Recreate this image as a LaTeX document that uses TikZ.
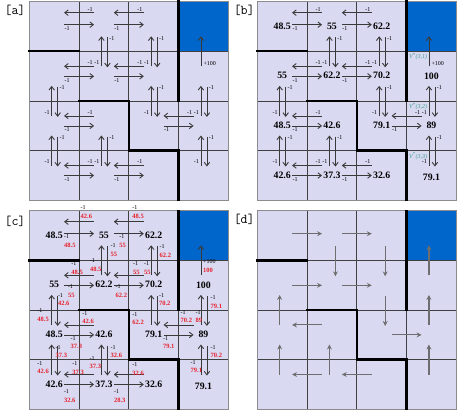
\documentclass[tikz,border=0pt]{standalone}
\usepackage{fontspec}
\setmainfont{Liberation Serif}
\usetikzlibrary{arrows.meta}
\definecolor{lav}{HTML}{D9D9F2}
\definecolor{cellblue}{HTML}{0066CC}
\definecolor{gridc}{HTML}{404040}
\definecolor{borderc}{HTML}{8C8C8C}
\definecolor{arrc}{HTML}{3A3A3A}
\definecolor{polc}{HTML}{6E6E6E}
\definecolor{redv}{HTML}{E8202A}
\definecolor{greenv}{HTML}{3FA08C}
\tikzset{
  arr/.style={draw=arrc, line width=0.75pt, -{Straight Barb[length=3.5pt,width=5.5pt,line width=0.9pt]}},
  pol/.style={draw=polc, line width=1.15pt, -{Stealth[length=5pt,width=5pt,inset=1.8pt]}},
  myarr/.style={arr},
  rew/.style={font=\fontsize{6}{7}\selectfont, inner sep=0pt},
  val/.style={font=\fontsize{9.8}{11}\selectfont\bfseries, inner sep=0pt},
  redval/.style={font=\fontsize{6.5}{7}\selectfont\bfseries, text=redv, inner sep=0pt, anchor=west},
  vstar/.style={font=\fontsize{6}{6.5}\selectfont\itshape, text=greenv, inner sep=0pt, anchor=north west},
  wall/.style={line width=2.4pt, black, line cap=rect},
  gridline/.style={gridc, line width=0.7pt},
  tag/.style={font=\fontsize{13.5}{14}\selectfont\ttfamily, inner sep=0pt},
}
\newif\iflabels
\newcommand\Hleft[3]{%
  \pgfmathsetmacro\myxb{#3*49.75}%
  \pgfmathsetmacro\myyy{#2*49.6+(#2==0 ? 11 : 15)}%
  \coordinate (#1L#2#3s) at (\myxb+15,\myyy);
  \coordinate (#1L#2#3e) at (\myxb-15,\myyy);
  \draw[myarr] (#1L#2#3s) -- (#1L#2#3e);
  \iflabels\node[rew] (#1L#2#3t) at (\myxb+11,\myyy-3.5) {-1};\fi
}
\newcommand\Hright[3]{%
  \pgfmathsetmacro\myxb{#3*49.75}%
  \pgfmathsetmacro\myyy{#2*49.6+(#2==0 ? 23 : 25)}%
  \coordinate (#1R#2#3s) at (\myxb-15,\myyy);
  \coordinate (#1R#2#3e) at (\myxb+15,\myyy);
  \draw[myarr] (#1R#2#3s) -- (#1R#2#3e);
  \iflabels\node[rew] (#1R#2#3t) at (\myxb-12,\myyy+4) {-1};\fi
}
\newcommand\Vup[3]{%
  \pgfmathsetmacro\myyb{#2*49.6}%
  \pgfmathsetmacro\myxx{#3*49.75+22.375}%
  \coordinate (#1U#2#3s) at (\myxx,\myyb+15);
  \coordinate (#1U#2#3e) at (\myxx,\myyb-15);
  \draw[myarr] (#1U#2#3s) -- (#1U#2#3e);
  \iflabels\node[rew] (#1U#2#3t) at (\myxx-4.5,\myyb+11.5) {-1};\fi
}
\newcommand\Vdown[3]{%
  \pgfmathsetmacro\myyb{#2*49.6}%
  \pgfmathsetmacro\myxx{#3*49.75+28.375}%
  \coordinate (#1D#2#3s) at (\myxx,\myyb-14);
  \coordinate (#1D#2#3e) at (\myxx,\myyb+16);
  \draw[myarr] (#1D#2#3s) -- (#1D#2#3e);
  \iflabels\node[rew] (#1D#2#3t) at (\myxx+4.5,\myyb-13) {-1};\fi
}
\newcommand\Hpair[3]{\Hleft{#1}{#2}{#3}\Hright{#1}{#2}{#3}}
\newcommand\Vpair[3]{\Vup{#1}{#2}{#3}\Vdown{#1}{#2}{#3}}
\newcommand\Vgoal[1]{%
  \coordinate (#1Gs) at (171.625,64.6);
  \coordinate (#1Ge) at (171.625,34.6);
  \draw[myarr] (#1Gs) -- (#1Ge);
  \iflabels\node[rew, anchor=west] (#1Gt) at (174.1,61.6) {+100};\fi
}
\newcommand\allarrows[1]{%
  \Hpair{#1}{0}{1}\Hpair{#1}{0}{2}
  \Hpair{#1}{1}{1}\Hpair{#1}{1}{2}
  \Hpair{#1}{2}{1}\Hpair{#1}{2}{3}
  \Hpair{#1}{3}{1}\Hpair{#1}{3}{2}
  \Vpair{#1}{1}{1}\Vpair{#1}{1}{2}
  \Vpair{#1}{2}{0}\Vpair{#1}{2}{2}\Vpair{#1}{2}{3}
  \Vpair{#1}{3}{0}\Vpair{#1}{3}{1}\Vpair{#1}{3}{3}
  \Vgoal{#1}
}
\newcommand\drawpanelgrid{%
  \fill[lav] (0,0) rectangle (199,198.4);
  \fill[cellblue] (149.25,0) rectangle (199,49.6);
  \foreach \i in {1,2,3} {
    \draw[gridline] (\i*49.75,0) -- (\i*49.75,198.4);
    \draw[gridline] (0,\i*49.6) -- (199,\i*49.6);
  }
  \draw[borderc, line width=1.2pt] (0,0) rectangle (199,198.4);
  \draw[wall] (0,49.6) -- (49.75,49.6);
  \draw[wall] (149.25,0) -- (149.25,99.2);
  \draw[wall] (49.75,99.2) -- (99.5,99.2) -- (99.5,148.8) -- (149.25,148.8) -- (149.25,198.4);
}
\newcommand\putvals[1]{%
  \node[val] (#1v00) at (24.875,24.5) {48.5};
  \node[val] (#1v01) at (74.625,24.5) {55};
  \node[val] (#1v02) at (124.375,24.5) {62.2};
  \node[val] (#1v10) at (24.875,74.1) {55};
  \node[val] (#1v11) at (74.625,74.1) {62.2};
  \node[val] (#1v12) at (124.375,74.1) {70.2};
  \node[val] (#1v13) at (174.125,74.1) {100};
  \node[val] (#1v20) at (24.875,123.7) {48.5};
  \node[val] (#1v21) at (74.625,123.7) {42.6};
  \node[val] (#1v22) at (124.375,123.7) {79.1};
  \node[val] (#1v23) at (174.125,123.7) {89};
  \node[val] (#1v30) at (24.875,173.3) {42.6};
  \node[val] (#1v31) at (74.625,173.3) {37.3};
  \node[val] (#1v32) at (124.375,173.3) {32.6};
  \node[val] (#1v33) at (174.125,176) {79.1};
}
\newcommand\clab[5][-1]{%
  \node[rew, anchor=west] (#2a) at (#3,#4) {#1};
  \node[redval] (#2b) at (#3,#4+8.5) {#5};
}
\begin{document}
\begin{tikzpicture}[x=1pt,y=-1pt]
\useasboundingbox (0,0) rectangle (460,412);
% panel a
\begin{scope}[shift={(29.3,1.7)}]
  \labelstrue
  \drawpanelgrid
  \allarrows{a}
\end{scope}
% panel b
\begin{scope}[shift={(257.3,1.7)}]
  \labelstrue
  \drawpanelgrid
  \allarrows{b}
  \putvals{b}
  \node[vstar] (bs1) at (151.5,51.3) {V\textsuperscript{*}(3,1)};
  \node[vstar] (bs2) at (151.5,100.9) {V\textsuperscript{*}(3,2)};
  \node[vstar] (bs3) at (151.5,150.5) {V\textsuperscript{*}(3,3)};
\end{scope}
% panel c
\begin{scope}[shift={(29.3,210.7)}]
  \labelsfalse
  \drawpanelgrid
  \allarrows{c}
  \putvals{c}
\end{scope}
\clab{c1}{80.5}{207.5}{42.6}
\clab{c2}{132.2}{207.5}{48.5}
\clab{c3}{64}{237}{48.5}
\clab{c4}{119.2}{237}{55}
\clab{c5}{110.3}{245.5}{55}
\clab{c6}{89.8}{261}{48.5}
\clab{c7}{159.5}{247}{62.2}
\clab{c8}{143.8}{264}{55}
\clab{c9}{71.2}{264}{48.5}
\clab{c10}{132.8}{264}{55}
\clab[+100]{c11}{203}{262}{100}
\clab{c12}{67.8}{287}{55}
\clab{c13}{115.5}{287}{62.2}
\clab{c14}{57.8}{295.3}{42.6}
\clab{c15}{158.8}{295.3}{70.2}
\clab{c16}{210.5}{298}{79.1}
\clab{c17}{37.2}{310.5}{48.5}
\clab{c18}{82.2}{313.3}{42.6}
\clab{c19}{132.2}{314.3}{62.2}
\clab{c20}{180.5}{312.3}{70.2}
\clab{c21}{195.5}{312.3}{89}
\clab{c22}{70.5}{338.3}{37.3}
\clab{c23}{162.8}{338.3}{79.1}
\clab{c24}{55.5}{347.3}{37.3}
\clab{c25}{110.5}{347.3}{32.6}
\clab{c26}{210.5}{347.3}{70.2}
\clab{c27}{89.5}{358.3}{37.3}
\clab{c28}{37.2}{363.3}{42.6}
\clab{c29}{72.2}{364}{37.3}
\clab{c30}{132.2}{365}{32.6}
\clab{c31}{190.5}{362.3}{79.1}
\clab{c32}{63.8}{391.7}{32.6}
\clab{c33}{113.8}{391.7}{28.3}
% panel d
\begin{scope}[shift={(257.3,210.7)}, myarr/.style={pol}]
  \labelsfalse
  \drawpanelgrid
  \Hright{d}{0}{1}\Hright{d}{0}{2}
  \Vdown{d}{1}{1}\Vdown{d}{1}{2}\Vgoal{d}
  \Hright{d}{1}{1}\Hright{d}{1}{2}
  \Vup{d}{2}{0}\Vdown{d}{2}{2}\Vup{d}{2}{3}
  \Hleft{d}{2}{1}\Hright{d}{2}{3}
  \Vup{d}{3}{0}\Vup{d}{3}{1}\Vup{d}{3}{3}
  \Hleft{d}{3}{1}\Hleft{d}{3}{2}
\end{scope}
% tags
\node[tag] (taga) at (15,10) {[a]};
\node[tag] (tagb) at (244.2,10) {[b]};
\node[tag] (tagc) at (15,221) {[c]};
\node[tag] (tagd) at (244.2,219.5) {[d]};
\end{tikzpicture}
\end{document}
